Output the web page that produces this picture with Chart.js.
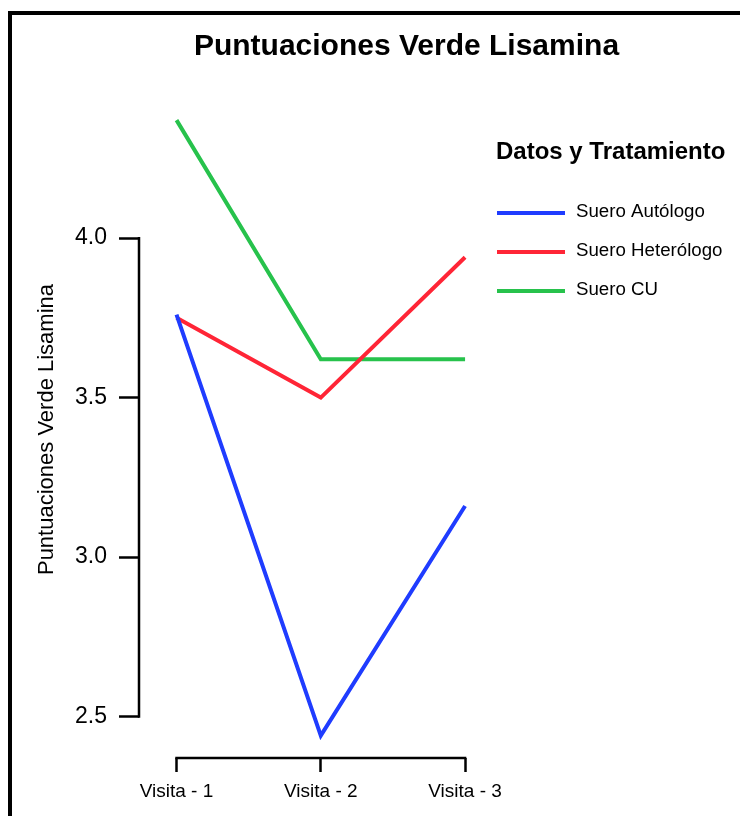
<!DOCTYPE html>
<html>
<head>
<meta charset="utf-8">
<script src="https://cdn.jsdelivr.net/npm/chart.js@4.4.1/dist/chart.umd.min.js"></script>
<style>
  html, body { margin: 0; padding: 0; background: #fff; overflow: hidden; }
  canvas { display: block; }
</style>
</head>
<body>
<canvas id="chart" width="740" height="816"></canvas>
<script>
// Visits and mean Lissamine green scores per treatment
const visits = ['Visita - 1', 'Visita - 2', 'Visita - 3'];
const autologo = [3.76, 2.44, 3.16];
const heterologo = [3.75, 3.50, 3.94];
const cu = [4.37, 3.62, 3.62];
const seriesNames = ['Suero Autólogo', 'Suero Heterólogo', 'Suero CU'];
const yTicks = [2.5, 3.0, 3.5, 4.0];

const chartTitle = 'Puntuaciones Verde Lisamina';
const yTitle = 'Puntuaciones Verde Lisamina';
const legendTitle = 'Datos y Tratamiento';

const seriesColors = ['#1f3cff', '#ff2536', '#27c24c'];
const FONT = "'Liberation Sans', Arial, Helvetica, sans-serif";

const toPoints = vals => vals.map((v, i) => ({ x: i + 1, y: v }));
const seriesValues = [autologo, heterologo, cu];

// Frame, title, legend and the trimmed axis lines
const decor = {
  id: 'decor',
  beforeDraw(chart) {
    const ctx = chart.ctx;
    ctx.save();
    ctx.fillStyle = '#fff';
    ctx.fillRect(0, 0, chart.width, chart.height);
    ctx.fillStyle = '#000';
    ctx.fillRect(8, 11, 4, chart.height);
    ctx.fillRect(8, 11, chart.width, 4);
    ctx.restore();
  },
  afterDraw(chart) {
    const ctx = chart.ctx;
    const xs = chart.scales.x, ys = chart.scales.y;
    ctx.save();
    ctx.strokeStyle = '#000';
    ctx.lineWidth = 2.5;
    ctx.lineCap = 'square';
    // y axis line spans only the labelled range
    const ax = chart.chartArea.left;
    ctx.beginPath();
    ctx.moveTo(ax, ys.getPixelForValue(yTicks[yTicks.length - 1]));
    ctx.lineTo(ax, ys.getPixelForValue(yTicks[0]));
    ctx.stroke();
    // x axis line from first to last visit
    const ay = chart.chartArea.bottom;
    ctx.beginPath();
    ctx.moveTo(xs.getPixelForValue(1), ay);
    ctx.lineTo(xs.getPixelForValue(visits.length), ay);
    ctx.stroke();

    // title
    ctx.fillStyle = '#000';
    ctx.font = `bold 30px ${FONT}`;
    ctx.textAlign = 'center';
    ctx.textBaseline = 'alphabetic';
    ctx.fillText(chartTitle, 406.5, 55);

    // legend
    ctx.textAlign = 'left';
    ctx.font = `bold 24px ${FONT}`;
    ctx.fillText(legendTitle, 496, 159);
    ctx.font = `18.7px ${FONT}`;
    ctx.textBaseline = 'middle';
    ctx.lineCap = 'butt';
    chart.data.datasets.forEach((ds, i) => {
      const y = 213 + i * 39;
      ctx.strokeStyle = ds.borderColor;
      ctx.lineWidth = 4;
      ctx.beginPath();
      ctx.moveTo(497, y);
      ctx.lineTo(565, y);
      ctx.stroke();
      ctx.fillStyle = '#000';
      ctx.fillText(ds.label, 576, y - 1);
    });
    ctx.restore();
  }
};

new Chart(document.getElementById('chart'), {
  type: 'line',
  data: {
    datasets: seriesNames.map((name, i) => ({
      label: name,
      data: toPoints(seriesValues[i]),
      borderColor: seriesColors[i],
      backgroundColor: seriesColors[i],
      borderWidth: 4,
      borderJoinStyle: 'miter',
      pointRadius: 0,
      pointHoverRadius: 0,
      tension: 0,
      fill: false
    }))
  },
  options: {
    responsive: false,
    animation: false,
    devicePixelRatio: 1,
    layout: { padding: { left: 10, top: 101, right: 260.5, bottom: 0 } },
    plugins: {
      legend: { display: false },
      title: { display: false },
      tooltip: { enabled: false }
    },
    scales: {
      x: {
        type: 'linear',
        min: 0.74,
        max: 3.1,
        afterBuildTicks: s => { s.ticks = visits.map((_, i) => ({ value: i + 1 })); },
        afterFit: s => { s.height = 58; },
        border: { display: false },
        grid: { drawOnChartArea: false, drawTicks: true, tickLength: 14, tickWidth: 2.5, tickColor: '#000' },
        ticks: {
          padding: 8, color: '#000', maxRotation: 0, autoSkip: false,
          font: { family: FONT, size: 19 },
          callback: v => visits[Math.round(v) - 1]
        }
      },
      y: {
        type: 'linear',
        min: 2.37,
        max: 4.43,
        afterBuildTicks: s => { s.ticks = yTicks.map(v => ({ value: v })); },
        afterFit: s => { s.width = 129; },
        border: { display: false },
        grid: { drawOnChartArea: false, drawTicks: true, tickLength: 20, tickWidth: 2.5, tickColor: '#000' },
        ticks: {
          padding: 12, color: '#000',
          font: { family: FONT, size: 23 },
          callback: v => v.toFixed(1)
        },
        title: {
          display: true, text: yTitle, color: '#000',
          font: { family: FONT, size: 22 },
          padding: { top: 24, bottom: 0 }
        }
      }
    }
  },
  plugins: [decor]
});
</script>
</body>
</html>
